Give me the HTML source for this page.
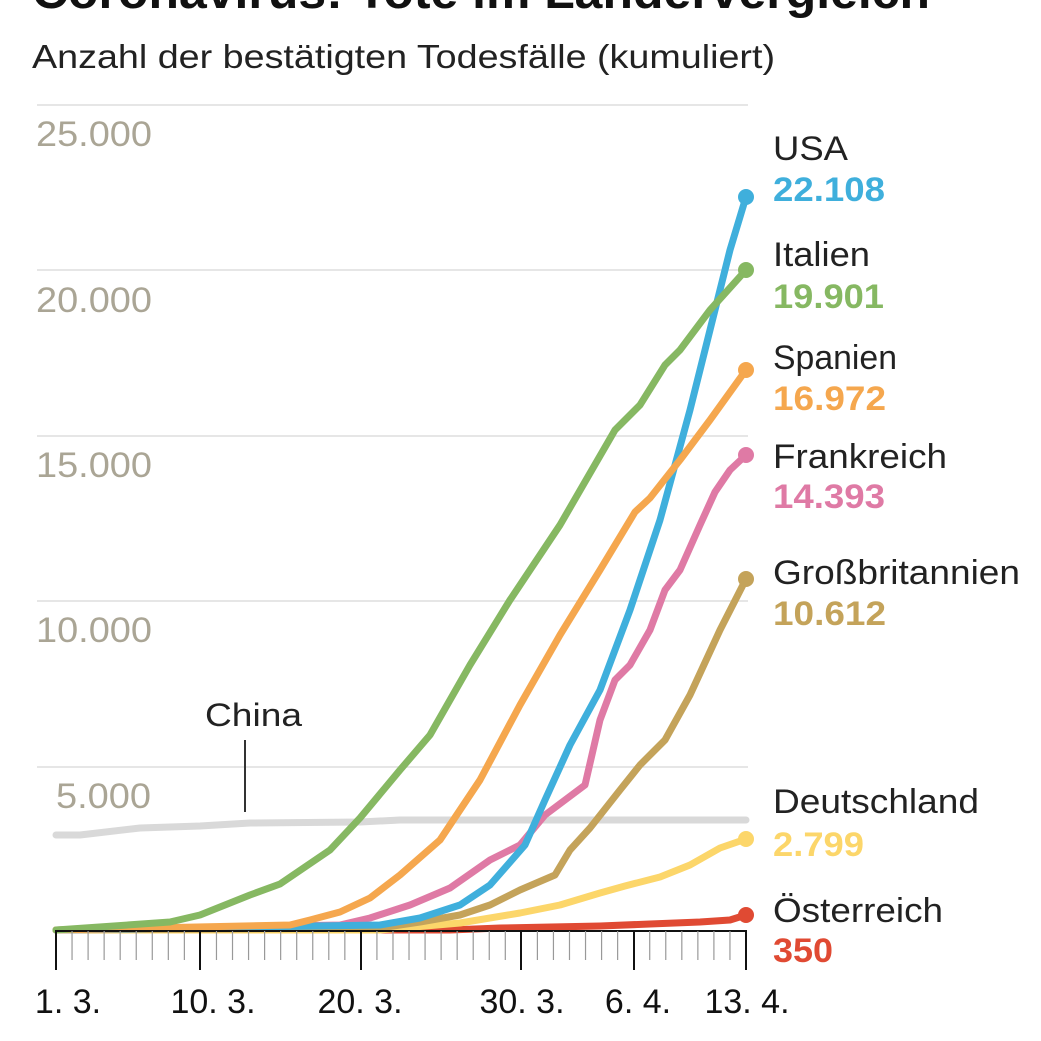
<!DOCTYPE html>
<html><head><meta charset="utf-8"><style>
body{margin:0;background:#fff}
svg{display:block}
text{font-family:"Liberation Sans",Arial,sans-serif}
</style></head><body>
<svg width="1041" height="1041" viewBox="0 0 1041 1041">
<text x="32" y="8" font-size="48" font-weight="bold" fill="#111" textLength="898" lengthAdjust="spacingAndGlyphs">Coronavirus: Tote im Ländervergleich</text>
<text x="32" y="68" font-size="33" fill="#222" textLength="743" lengthAdjust="spacingAndGlyphs">Anzahl der bestätigten Todesfälle (kumuliert)</text>
<g stroke="#ddd" stroke-width="1.5">
<line x1="37" y1="105" x2="748" y2="105"/>
<line x1="37" y1="270" x2="748" y2="270"/>
<line x1="37" y1="436" x2="748" y2="436"/>
<line x1="37" y1="601" x2="748" y2="601"/>
<line x1="37" y1="767" x2="748" y2="767"/>
</g>
<g font-size="35" fill="#aaa595">
<text x="36" y="146" textLength="116" lengthAdjust="spacingAndGlyphs">25.000</text>
<text x="36" y="312" textLength="116" lengthAdjust="spacingAndGlyphs">20.000</text>
<text x="36" y="477" textLength="116" lengthAdjust="spacingAndGlyphs">15.000</text>
<text x="36" y="642" textLength="116" lengthAdjust="spacingAndGlyphs">10.000</text>
<text x="56" y="808" textLength="95" lengthAdjust="spacingAndGlyphs">5.000</text>
</g>
<text x="205" y="726" font-size="32" fill="#222" textLength="97" lengthAdjust="spacingAndGlyphs">China</text>
<line x1="245" y1="740" x2="245" y2="812" stroke="#333" stroke-width="2"/>
<g fill="none" stroke-width="7" stroke-linejoin="round" stroke-linecap="round">
<polyline stroke="#d9d9d9" points="56,835 80,835 140,828 200,826 250,823 360,822 400,820 746,820"/>
<polyline stroke="#e04a33" points="56,930 450,930 500,928 600,926 650,924 700,922 730,920 746,915"/>
<polyline stroke="#fcd66a" points="56,930 380,930 460,923 520,913 560,905 600,893 625,886 660,877 690,865 720,848 746,839"/>
<polyline stroke="#c4a35a" points="56,930 380,928 420,922 460,915 490,905 520,890 555,875 570,850 590,828 620,790 640,765 665,740 690,695 720,630 746,579"/>
<polyline stroke="#df7aa5" points="56,930 340,925 370,918 410,905 450,888 490,860 520,845 545,815 585,785 600,720 615,680 630,665 650,630 665,590 680,570 700,525 715,492 730,470 746,455"/>
<polyline stroke="#3fafdc" points="56,930 380,925 420,918 460,905 490,885 525,845 545,800 570,745 600,690 630,610 660,520 690,410 710,330 730,250 746,197"/>
<polyline stroke="#f5a74e" points="56,930 290,925 310,920 340,912 370,898 400,875 440,840 480,780 520,705 560,635 600,570 635,512 650,498 680,460 710,420 746,370"/>
<polyline stroke="#86b862" points="56,930 170,922 200,915 250,895 280,884 330,850 360,818 400,770 430,735 470,665 510,600 560,525 615,430 640,405 665,365 680,350 710,310 746,270"/>
</g>
<circle cx="746" cy="197" r="8" fill="#3fafdc"/>
<circle cx="746" cy="270" r="8" fill="#86b862"/>
<circle cx="746" cy="370" r="8" fill="#f5a74e"/>
<circle cx="746" cy="455" r="8" fill="#df7aa5"/>
<circle cx="746" cy="579" r="8" fill="#c4a35a"/>
<circle cx="746" cy="839" r="8" fill="#fcd66a"/>
<circle cx="746" cy="915" r="8" fill="#e04a33"/>
<line x1="55" y1="931" x2="747" y2="931" stroke="#111" stroke-width="2"/>
<g id="ticks" stroke="#999" stroke-width="1.2"></g>
<g stroke="#111" stroke-width="2">
<line x1="56" y1="931" x2="56" y2="970"/><line x1="200" y1="931" x2="200" y2="970"/>
<line x1="361" y1="931" x2="361" y2="970"/><line x1="521" y1="931" x2="521" y2="970"/>
<line x1="634" y1="931" x2="634" y2="970"/><line x1="746" y1="931" x2="746" y2="970"/>
</g>
<g font-size="34" fill="#111" text-anchor="middle">
<text x="68" y="1013">1. 3.</text><text x="213" y="1013">10. 3.</text>
<text x="360" y="1013">20. 3.</text><text x="522" y="1013">30. 3.</text>
<text x="638" y="1013">6. 4.</text><text x="747" y="1013">13. 4.</text>
</g>
<g font-size="34">
<text x="773" y="160" fill="#222" textLength="75" lengthAdjust="spacingAndGlyphs">USA</text>
<text x="773" y="201" fill="#3fafdc" font-weight="bold" textLength="112" lengthAdjust="spacingAndGlyphs">22.108</text>
<text x="773" y="266" fill="#222" textLength="97" lengthAdjust="spacingAndGlyphs">Italien</text>
<text x="773" y="308" fill="#86b862" font-weight="bold" textLength="111" lengthAdjust="spacingAndGlyphs">19.901</text>
<text x="773" y="369" fill="#222" textLength="124" lengthAdjust="spacingAndGlyphs">Spanien</text>
<text x="773" y="410" fill="#f5a74e" font-weight="bold" textLength="113" lengthAdjust="spacingAndGlyphs">16.972</text>
<text x="773" y="468" fill="#222" textLength="174" lengthAdjust="spacingAndGlyphs">Frankreich</text>
<text x="773" y="508" fill="#df7aa5" font-weight="bold" textLength="112" lengthAdjust="spacingAndGlyphs">14.393</text>
<text x="773" y="584" fill="#222" textLength="247" lengthAdjust="spacingAndGlyphs">Großbritannien</text>
<text x="773" y="625" fill="#c4a35a" font-weight="bold" textLength="113" lengthAdjust="spacingAndGlyphs">10.612</text>
<text x="773" y="813" fill="#222" textLength="206" lengthAdjust="spacingAndGlyphs">Deutschland</text>
<text x="773" y="856" fill="#fcd66a" font-weight="bold" textLength="91" lengthAdjust="spacingAndGlyphs">2.799</text>
<text x="773" y="922" fill="#222" textLength="170" lengthAdjust="spacingAndGlyphs">Österreich</text>
<text x="773" y="962" fill="#e04a33" font-weight="bold" textLength="60" lengthAdjust="spacingAndGlyphs">350</text>
</g>
</svg>
<script>
var g=document.getElementById('ticks'),s='';
for(var d=0;d<=43;d++){var x=56+d*690/43;s+='<line x1="'+x+'" y1="931" x2="'+x+'" y2="960"/>';}
g.innerHTML=s;
</script>
</body></html>
